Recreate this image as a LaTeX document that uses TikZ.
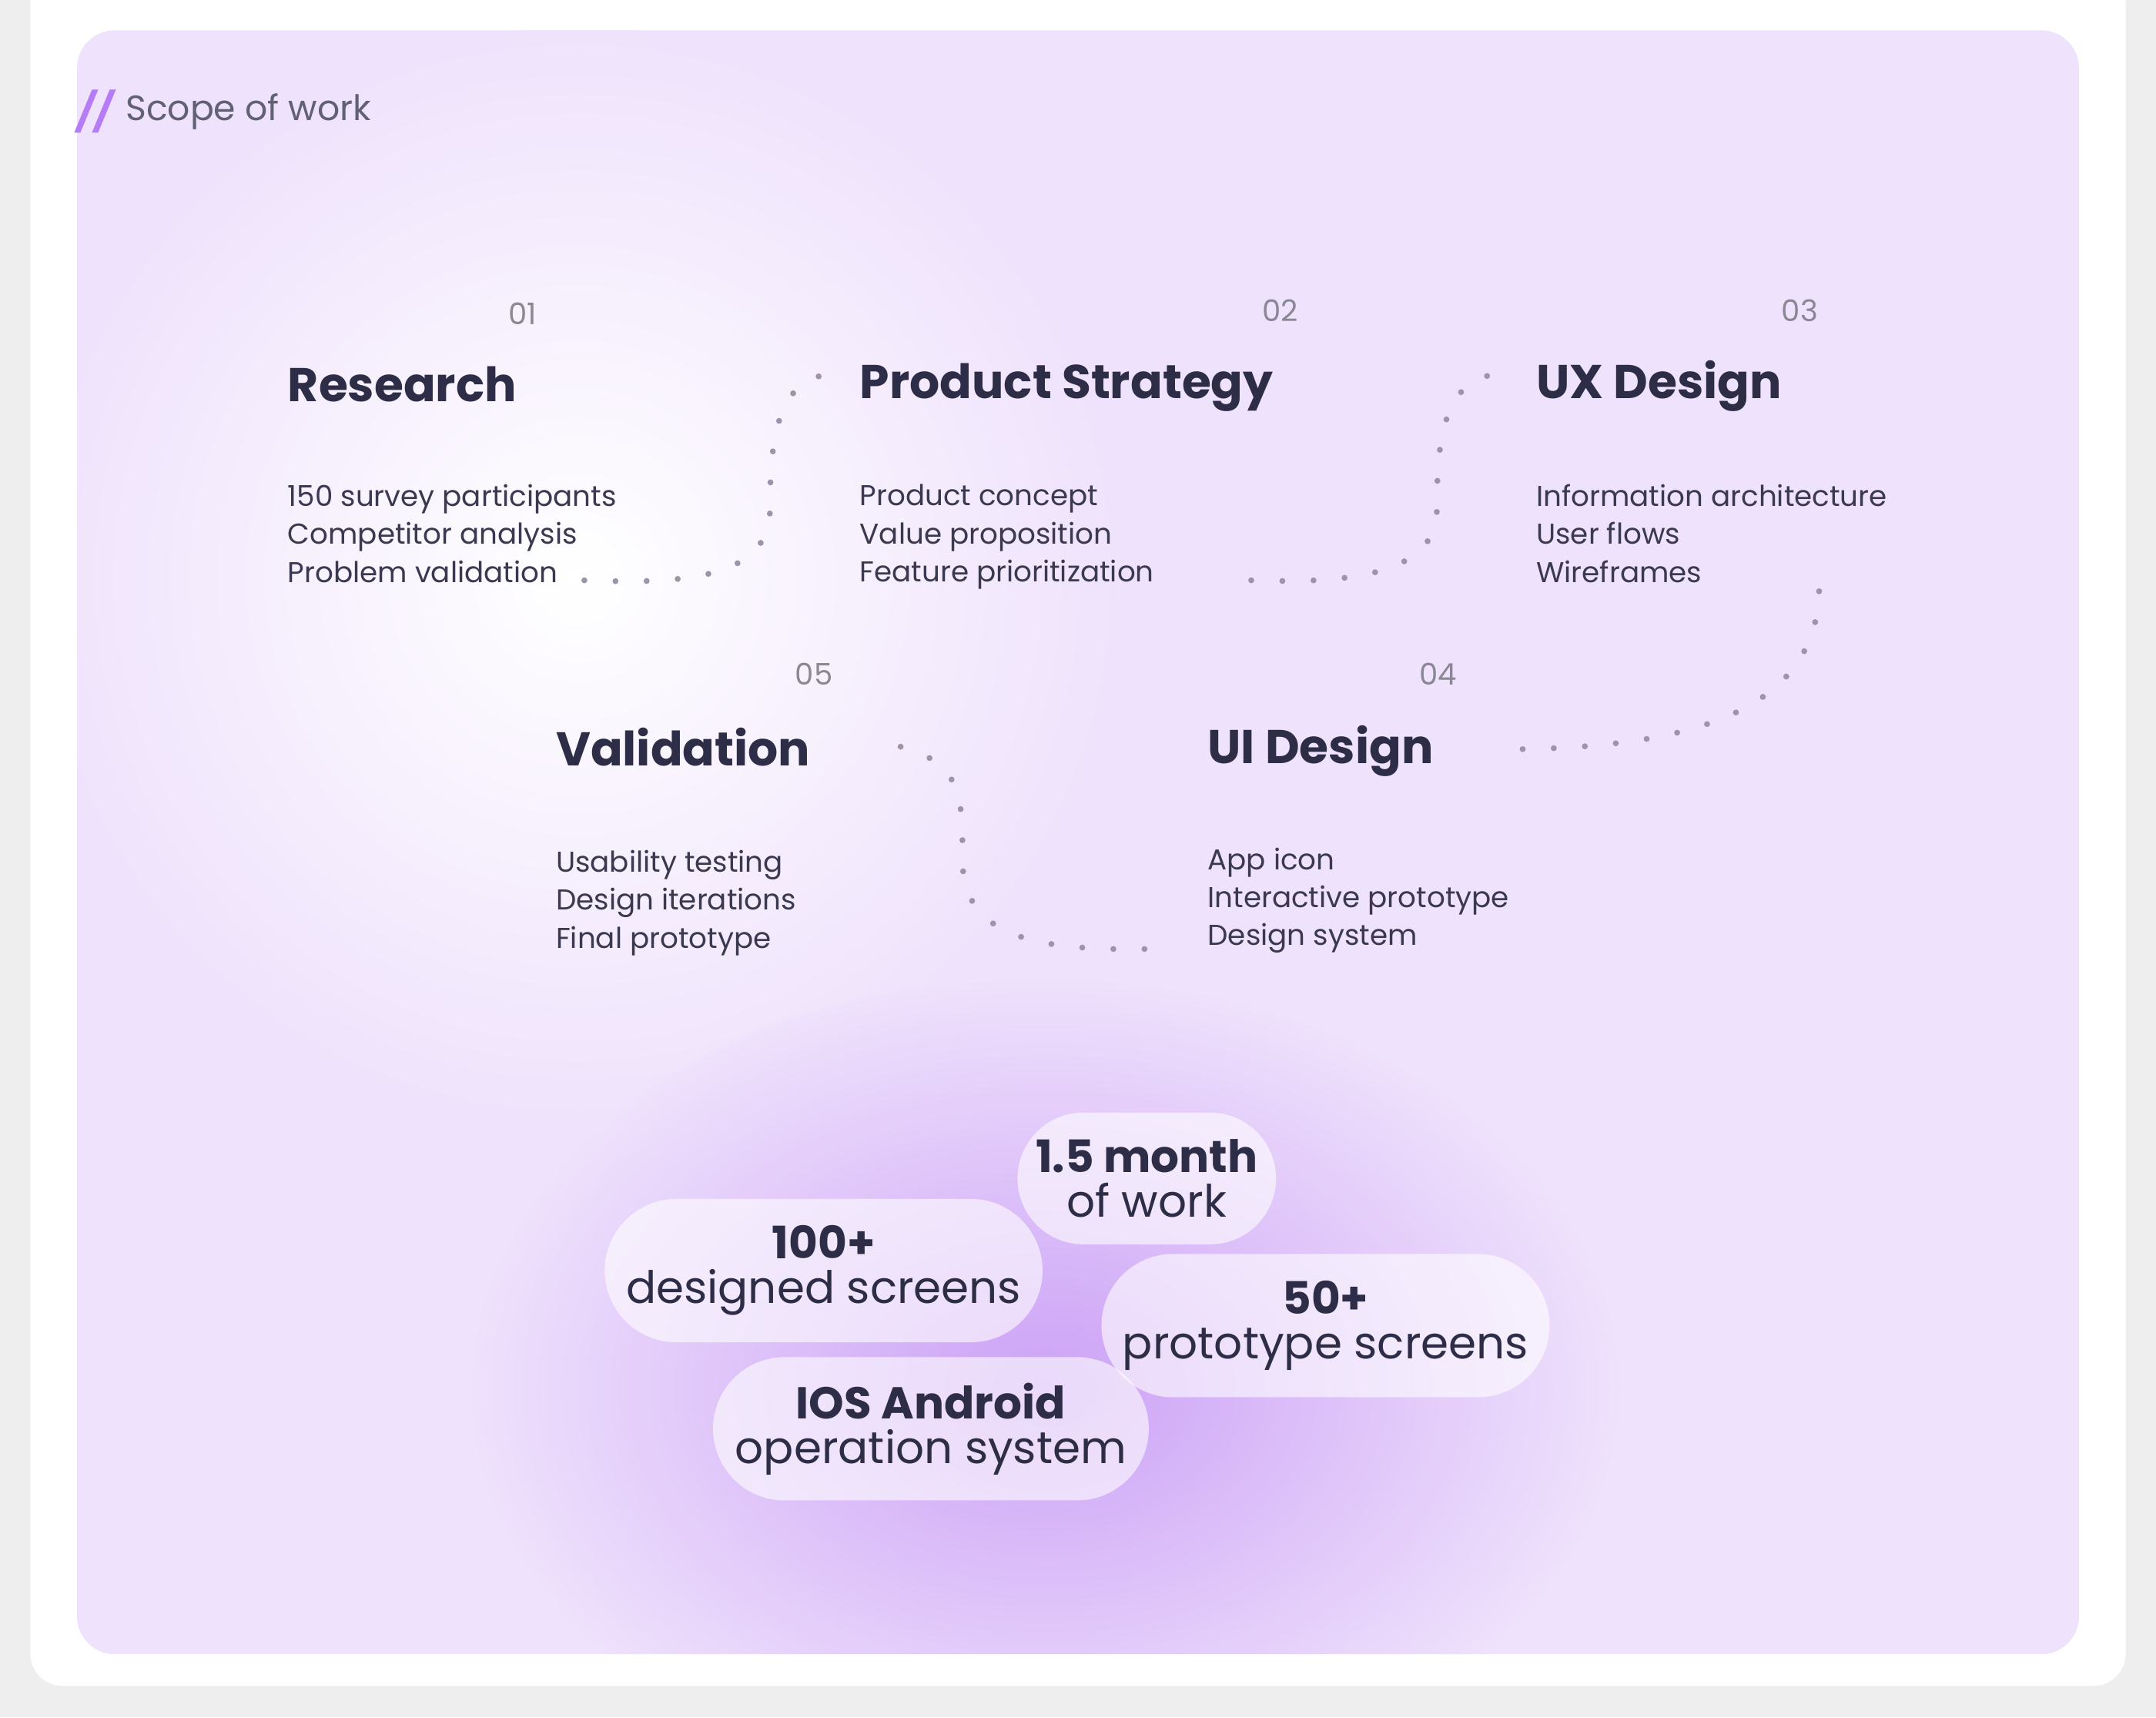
\documentclass[tikz,border=0pt]{standalone}
\usepackage{fontspec}
\setmainfont{Poppins}
\usetikzlibrary{shapes.misc}
\definecolor{bgg}{HTML}{EEEEEE}
\definecolor{lav}{HTML}{EFE2FC}
\definecolor{ink}{HTML}{2E2D48}
\definecolor{sub}{HTML}{3A3950}
\definecolor{num}{HTML}{8A8894}
\definecolor{dotc}{HTML}{9C94A8}
\definecolor{pur}{HTML}{C99BF6}
\definecolor{slash}{HTML}{B57CF5}
\begin{document}
\begin{tikzpicture}[x=0.01786cm,y=-0.01786cm,
 title/.style={anchor=base west,font=\fontsize{17.5}{17.5}\selectfont\bfseries,text=ink,inner sep=0},
 item/.style={anchor=north west,align=left,font=\fontsize{10.6}{14}\selectfont,text=sub,inner sep=0},
 num/.style={anchor=base,font=\fontsize{11}{11}\selectfont,text=num,inner sep=0},
 conn/.style={draw=dotc,line width=2.2pt,line cap=round,dash pattern=on 0pt off 11.5pt},
 pill/.style={rounded rectangle,fill=white,fill opacity=0.6,text opacity=1,align=center,text=ink,inner xsep=2pt,inner ysep=0pt,font=\fontsize{16.5}{16.5}\selectfont}]
\useasboundingbox (0,0) rectangle (1568,1249);
\fill[bgg] (0,0) rectangle (1568,1249);
\fill[white,rounded corners=12] (22,-20) rectangle (1546,1226);
\begin{scope}
\clip[rounded corners=14] (56,22) rectangle (1512,1203);
\fill[lav] (56,22) rectangle (1512,1203);
\shade[inner color=white,outer color=lav] (420,420) circle (400);
\shade[inner color=pur,outer color=lav,opacity=0.9] (760,1010) ellipse (420 and 300);
\end{scope}
\node[anchor=west,font=\fontsize{14}{14}\selectfont\bfseries\itshape,text=slash,inner sep=0] (sl) at (56,81) {//};
\node[anchor=west,font=\fontsize{13}{13}\selectfont,text=sub!80,inner sep=0] (hd) at (91,81) {Scope of work};
\node[num] (n1) at (380,236) {01};
\node[title] (t1) at (209,292) {Research};
\node[item] (i1) at (209,352) {150 survey participants\\Competitor analysis\\Problem validation};
\node[num] (n2) at (931,234) {02};
\node[title] (t2) at (625,290) {Product Strategy};
\node[item] (i2) at (625,352) {Product concept\\Value proposition\\Feature prioritization};
\node[num] (n3) at (1309,234) {03};
\node[title] (t3) at (1117,290) {UX Design};
\node[item] (i3) at (1117,352) {Information architecture\\User flows\\Wireframes};
\node[num] (n4) at (1046,498) {04};
\node[title] (t4) at (878,555) {UI Design};
\node[item] (i4) at (878,616) {App icon\\Interactive prototype\\Design system};
\node[num] (n5) at (592,498) {05};
\node[title] (t5) at (404,557) {Validation};
\node[item] (i5) at (404,618) {Usability testing\\Design iterations\\Final prototype};
\coordinate (a1) at (425,422); \coordinate (a2) at (605,272);
\draw[conn] (a1) .. controls (500,425) and (560,420) .. (560,370) .. controls (560,320) and (565,275) .. (a2);
\coordinate (b1) at (910,422); \coordinate (b2) at (1090,272);
\draw[conn] (b1) .. controls (990,425) and (1045,415) .. (1045,370) .. controls (1045,320) and (1050,275) .. (b2);
\coordinate (c1) at (1323,430); \coordinate (c2) at (1085,545);
\draw[conn] (c1) .. controls (1320,530) and (1200,545) .. (c2);
\coordinate (d1) at (655,543); \coordinate (d2) at (838,690);
\draw[conn] (d1) .. controls (700,555) and (700,580) .. (700,625) .. controls (700,680) and (750,692) .. (d2);
\node[pill,minimum width=3.30cm, minimum height=1.71cm] (p1) at (834,857) {\textbf{1.5 month}\\of work};
\node[pill,minimum width=5.50cm, minimum height=1.86cm] (p2) at (599,924) {\textbf{100+}\\designed screens};
\node[pill,minimum width=5.64cm, minimum height=1.86cm] (p3) at (964,964) {\textbf{50+}\\prototype screens};
\node[pill,minimum width=5.41cm, minimum height=1.86cm] (p4) at (677,1039) {\textbf{IOS Android}\\operation system};
\end{tikzpicture}
\end{document}
